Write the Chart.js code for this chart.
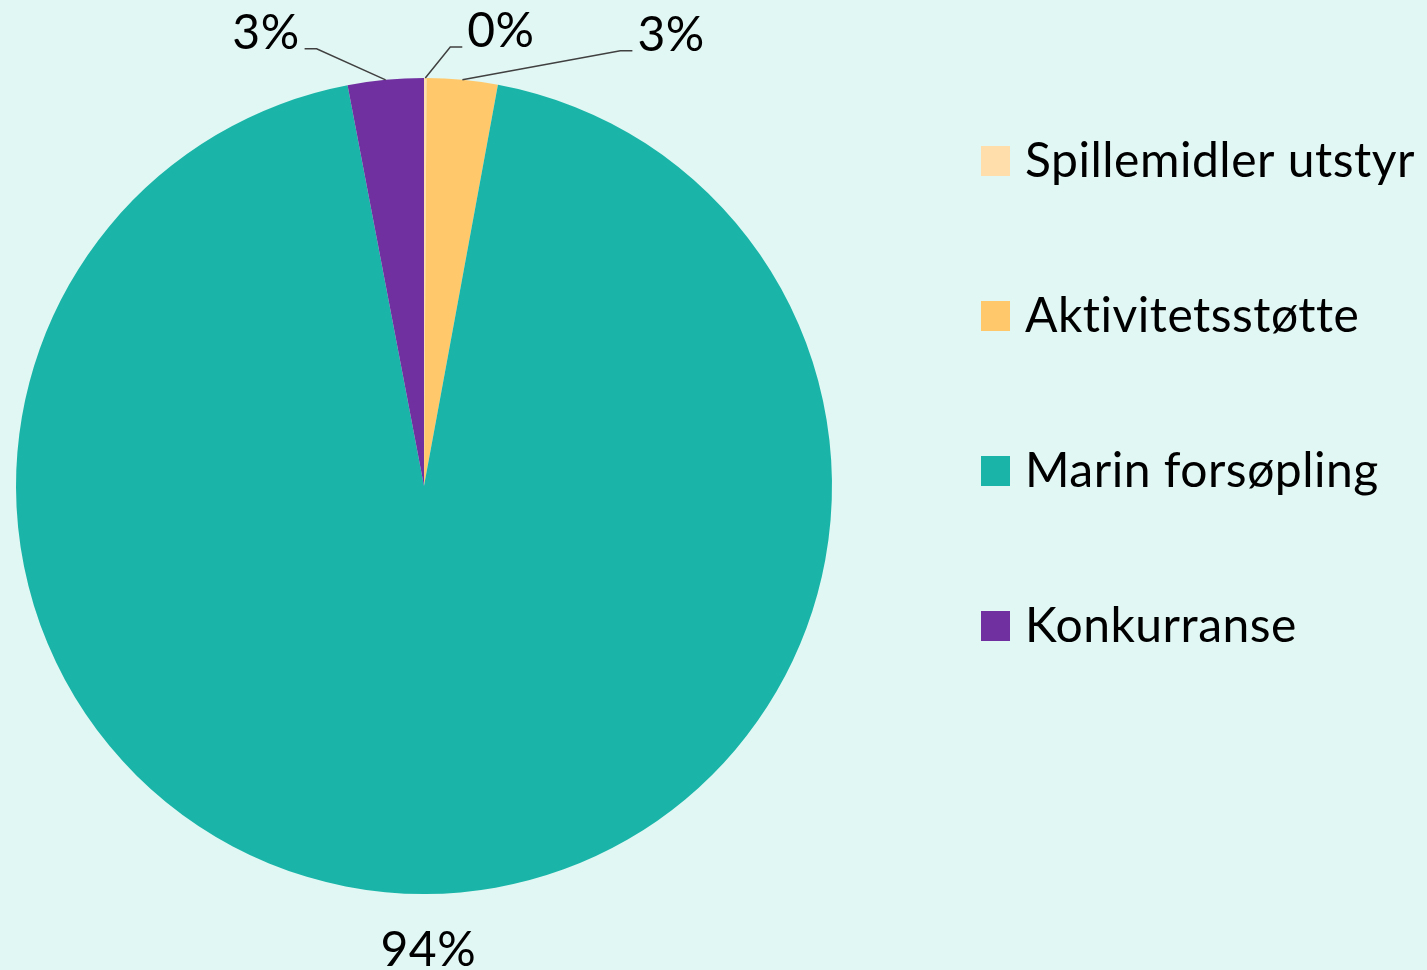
<!DOCTYPE html>
<html>
<head>
<meta charset="utf-8">
<script src="https://cdn.jsdelivr.net/npm/chart.js@4.4.1/dist/chart.umd.min.js"></script>
<style>
  html, body { margin: 0; padding: 0; background: #e1f7f3; }
  #wrap { width: 1427px; height: 970px; position: relative; }
</style>
</head>
<body>
<div id="wrap"><canvas id="pie"></canvas></div>
<script>
const categories = ["Spillemidler utstyr", "Aktivitetsstøtte", "Marin forsøpling", "Konkurranse"];
const shares = [0.1, 2.8, 94.1, 3.0];
const pctLabels = ["0%", "3%", "94%", "3%"];
const colors = ["#ffdeab", "#ffc96b", "#1ab5a8", "#7030a0"];

const FONT = "Lato, 'Noto Sans', sans-serif";

// leader line layout for each data label, relative to the slice's mid point on the rim
const labelLayout = [
    { elbow: [25, -31], run: 12 },
    { elbow: [158, -29], run: 12 },
    { text: [3, 72] },
    { elbow: [-69, -31], run: -12 }
];

const pieLabels = {
    id: 'pieLabels',
    afterDatasetsDraw(chart) {
        const ctx = chart.ctx;
        const arcs = chart.getDatasetMeta(0).data;
        ctx.save();
        ctx.font = "48px " + FONT;
        ctx.letterSpacing = "0.5px";
        ctx.fillStyle = "#000";
        ctx.strokeStyle = "#404040";
        ctx.lineWidth = 1.5;
        arcs.forEach((arc, i) => {
            const p = arc.getProps(['x', 'y', 'startAngle', 'endAngle', 'outerRadius'], true);
            const mid = (p.startAngle + p.endAngle) / 2;
            const ax = p.x + Math.cos(mid) * p.outerRadius;
            const ay = p.y + Math.sin(mid) * p.outerRadius;
            const lay = labelLayout[i];
            if (lay.text) {
                ctx.textAlign = 'center';
                ctx.textBaseline = 'alphabetic';
                ctx.fillText(pctLabels[i], ax + lay.text[0], ay + lay.text[1]);
                return;
            }
            const ex = ax + lay.elbow[0], ey = ay + lay.elbow[1];
            const endX = ex + lay.run;
            ctx.beginPath();
            ctx.moveTo(ax, ay);
            ctx.lineTo(ex, ey);
            ctx.lineTo(endX, ey);
            ctx.stroke();
            ctx.textBaseline = 'alphabetic';
            if (lay.run > 0) {
                ctx.textAlign = 'left';
                ctx.fillText(pctLabels[i], endX + 5, ey);
            } else {
                ctx.textAlign = 'right';
                ctx.fillText(pctLabels[i], endX - 5, ey);
            }
        });
        ctx.restore();
    }
};

const sideLegend = {
    id: 'sideLegend',
    afterDraw(chart) {
        const ctx = chart.ctx;
        const x = chart.chartArea.right + 149;
        ctx.save();
        ctx.font = "48px " + FONT;
        ctx.letterSpacing = "0.5px";
        ctx.textAlign = 'left';
        ctx.textBaseline = 'alphabetic';
        chart.data.labels.forEach((lab, i) => {
            const cy = 161 + i * 155;
            ctx.fillStyle = chart.data.datasets[0].backgroundColor[i];
            ctx.fillRect(x, cy - 15, 29, 30);
            ctx.fillStyle = "#000";
            ctx.fillText(lab, x + 44, cy + 16);
        });
        ctx.restore();
    }
};

new Chart(document.getElementById('pie'), {
    type: 'pie',
    data: {
        labels: categories,
        datasets: [{
            data: shares,
            backgroundColor: colors,
            borderWidth: 0
        }]
    },
    options: {
        responsive: true,
        maintainAspectRatio: false,
        animation: false,
        layout: { padding: { left: 16, top: 78, right: 595, bottom: 76 } },
        plugins: {
            legend: { display: false },
            tooltip: { enabled: false }
        }
    },
    plugins: [pieLabels, sideLegend]
});
</script>
</body>
</html>
